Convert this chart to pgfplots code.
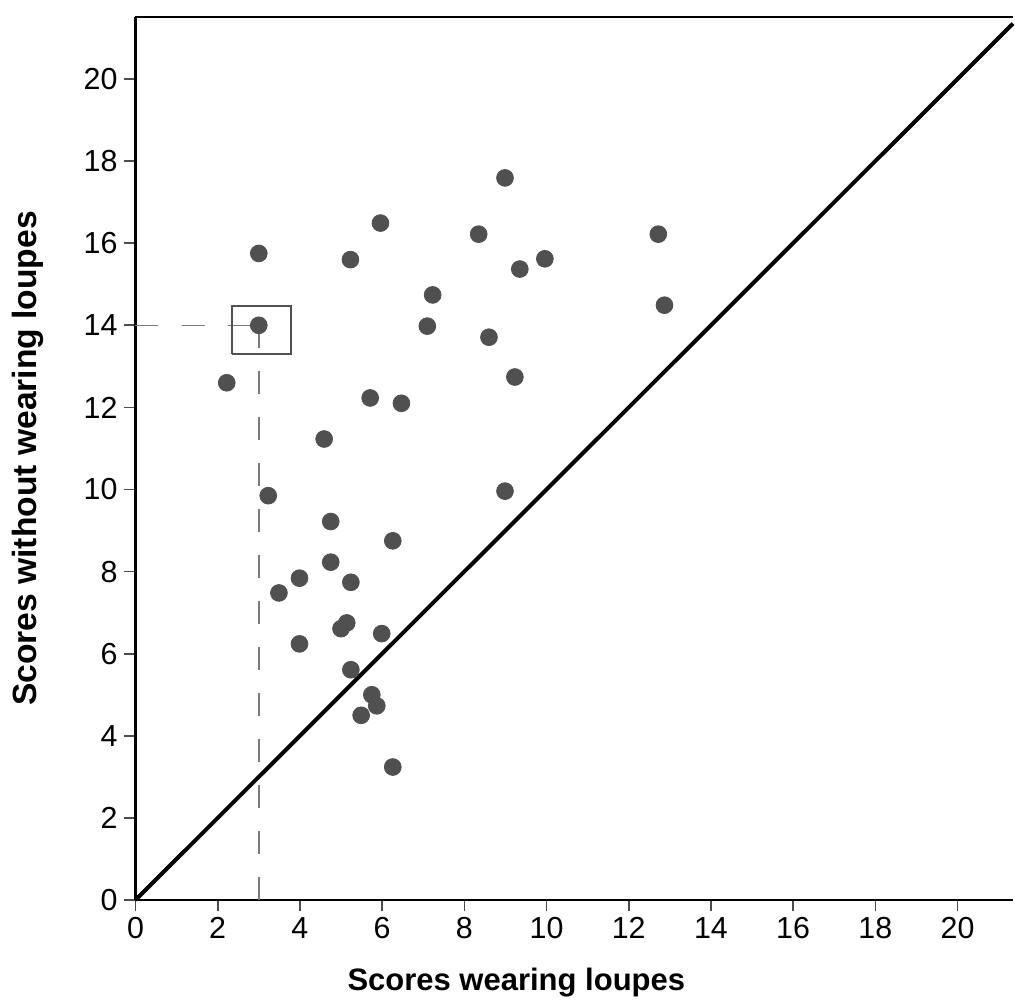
\documentclass[border=0pt]{standalone}
\usepackage{fontspec}
\setmainfont{Liberation Sans}
\usepackage{pgfplots}
\pgfplotsset{compat=1.18}
\usetikzlibrary{calc}
\definecolor{dot}{HTML}{505050}
\definecolor{dashgray}{HTML}{7a7a7a}

\begin{document}
\begin{tikzpicture}
\begin{axis}[
  name=ax,
  scale only axis,
  width=438.75pt, height=441.5pt,
  xmin=0, xmax=21.35, ymin=0, ymax=21.51,
  axis lines=left,
  axis line style={-, line width=1.2pt, black},
  clip=false,
  xtick={0,2,...,20}, ytick={0,2,...,20},
  tick align=outside,
  major tick length=5.5pt,
  every tick/.style={black!70, line width=0.8pt},
  /pgf/number format/assume math mode=true,
  tick label style={font=\fontsize{15.2}{17}\selectfont},
  xticklabel style={yshift=0.5pt},
  yticklabel style={xshift=0pt},
  xlabel={\bfseries Scores wearing loupes},
  ylabel={\bfseries Scores without wearing loupes},
  every axis x label/.style={at={(rel axis cs:0.434,0)}, anchor=center, yshift=-41.5pt,
    font=\fontsize{15.5}{18}\selectfont},
  every axis y label/.style={at={(rel axis cs:0,0.5)}, rotate=90, anchor=center, yshift=54pt,
    font=\fontsize{16.8}{19}\selectfont},
]
% top frame line
\draw[line width=1.2pt] (rel axis cs:0,1) -- (rel axis cs:1,1);

% reference lines for the highlighted subject
\addplot[dashgray, line width=0.7pt, dash pattern=on 11.5pt off 11.5pt] coordinates {(0,14) (3,14)};
\addplot[dashgray, line width=0.7pt, dash pattern=on 11.5pt off 11.5pt] coordinates {(3,14) (3,0)};

% line of equality
\addplot[black, line width=2pt] coordinates {(0,0) (21.35,21.35)};

% scores
\addplot[only marks, mark=*, mark size=4.2pt, color=dot, fill=dot] coordinates {
(3.0,15.75) (3.0,14.0) (2.22,12.6) (3.23,9.85) (3.49,7.48) (3.99,7.84) (3.99,6.24)
(4.59,11.23) (4.75,9.22) (4.75,8.23) (5.23,15.6) (5.24,7.74) (5.0,6.61) (5.14,6.75)
(5.24,5.61) (5.71,12.23) (5.96,16.49) (6.47,12.1) (5.99,6.49) (5.75,5.0) (5.49,4.5)
(5.87,4.73) (6.26,8.75) (6.26,3.24) (7.1,13.98) (7.23,14.74) (8.35,16.22) (8.6,13.71)
(8.99,17.59) (8.99,9.96) (9.23,12.74) (9.35,15.37) (9.96,15.62) (12.72,16.22) (12.87,14.49)
};

% highlight box
\addplot[dot, line width=1pt] coordinates {(2.34,13.31) (3.78,13.31) (3.78,14.46) (2.34,14.46) (2.34,13.31)};
\end{axis}
\pgfresetboundingbox
\path ($(ax.south west)+(-67.75pt,-52pt)$) rectangle ($(ax.north east)+(1pt,8.5pt)$);
\end{tikzpicture}
\end{document}
